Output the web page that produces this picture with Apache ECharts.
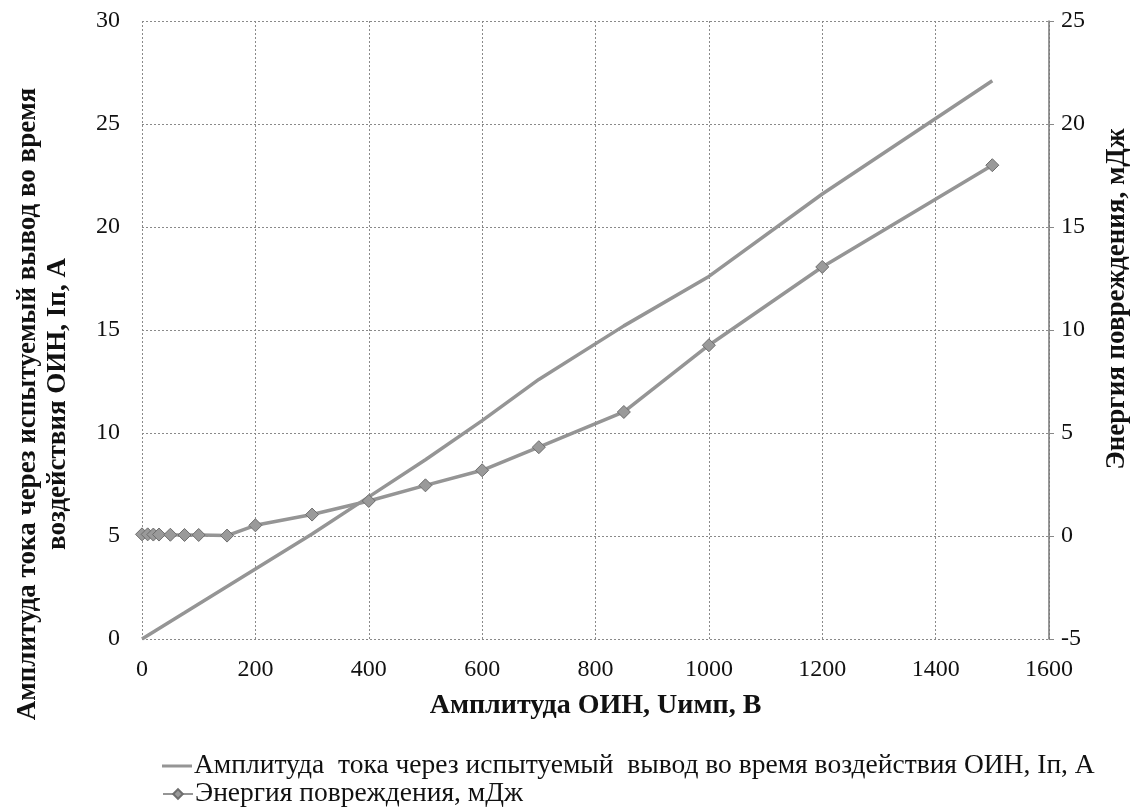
<!DOCTYPE html>
<html>
<head>
<meta charset="utf-8">
<script src="https://cdn.jsdelivr.net/npm/echarts@6/dist/echarts.min.js"></script>
<style>
html,body{margin:0;padding:0;background:#fff;}
#chart{width:1139px;height:807px;}
</style>
</head>
<body>
<div id="chart"></div>
<script>
// Data
const voltage = [0, 10, 20, 30, 50, 75, 100, 150, 200, 300, 400, 500, 600, 700, 850, 1000, 1200, 1500];
const currentA = [0, 0.17, 0.34, 0.51, 0.85, 1.27, 1.7, 2.55, 3.4, 5.1, 6.9, 8.7, 10.6, 12.6, 15.2, 17.6, 21.6, 27.1];
const energyMJ = [0.08, 0.08, 0.07, 0.07, 0.06, 0.05, 0.05, 0.02, 0.52, 1.04, 1.7, 2.46, 3.19, 4.31, 6.02, 9.26, 13.06, 18.0];
const seriesNames = [
  'Амплитуда  тока через испытуемый  вывод во время воздействия ОИН, Iп, А',
  'Энергия повреждения, мДж'
];
const xTitle = 'Амплитуда ОИН, Uимп, В';
const leftTitle = ['Амплитуда тока через испытуемый вывод во время', 'воздействия ОИН, Iп, А'];
const rightTitle = 'Энергия повреждения, мДж';

const FONT = '"Liberation Serif", "Times New Roman", serif';
const chart = echarts.init(document.getElementById('chart'));
const gridLine = {show: true, lineStyle: {color: '#8a8a8a', type: [2, 2], width: 1}};
const lineColor = '#959595';
const tickFont = {fontFamily: FONT, fontSize: 24, color: '#111'};
const legendText = {fontFamily: FONT, fontSize: 27.5, color: '#111', padding: [0, 0, 0, -3]};

chart.setOption({
  animation: false,
  backgroundColor: '#ffffff',
  textStyle: {fontFamily: FONT, color: '#111'},
  grid: {left: 142, right: 90, top: 21, bottom: 168},
  legend: [
    {
      orient: 'horizontal', left: 157, top: 747, itemWidth: 30, itemHeight: 3,
      textStyle: legendText,
      data: [{name: seriesNames[0], icon: 'rect'}]
    },
    {
      orient: 'horizontal', left: 157, top: 775, itemWidth: 30, itemHeight: 12,
      textStyle: legendText,
      data: [seriesNames[1]]
    }
  ],
  xAxis: {
    type: 'value', min: 0, max: 1600, interval: 200,
    name: xTitle, nameLocation: 'middle', nameGap: 53,
    nameTextStyle: {fontFamily: FONT, fontSize: 28, fontWeight: 'bold', color: '#111'},
    axisLine: {show: false}, axisTick: {show: false},
    axisLabel: Object.assign({margin: 19, formatter: v => String(v)}, tickFont),
    splitLine: gridLine
  },
  yAxis: [
    {
      type: 'value', min: 0, max: 30, interval: 5, position: 'left',
      axisLine: {show: false}, axisTick: {show: false},
      axisLabel: Object.assign({margin: 22, formatter: v => String(v)}, tickFont),
      splitLine: gridLine
    },
    {
      type: 'value', min: -5, max: 25, interval: 5, position: 'right',
      axisLine: {show: true, lineStyle: {color: '#777', width: 1.5}},
      axisTick: {show: true, length: 5, lineStyle: {color: '#888'}},
      axisLabel: Object.assign({margin: 12, formatter: v => String(v)}, tickFont),
      splitLine: {show: false}
    }
  ],
  graphic: [
    {type: 'text', x: 28, y: 404, rotation: Math.PI / 2,
     style: {text: leftTitle[0], font: 'bold 27px ' + FONT, fill: '#111', align: 'center', verticalAlign: 'middle'}},
    {type: 'text', x: 58, y: 404, rotation: Math.PI / 2,
     style: {text: leftTitle[1], font: 'bold 27px ' + FONT, fill: '#111', align: 'center', verticalAlign: 'middle'}},
    {type: 'text', x: 1117, y: 299, rotation: Math.PI / 2,
     style: {text: rightTitle, font: 'bold 27px ' + FONT, fill: '#111', align: 'center', verticalAlign: 'middle'}}
  ],
  series: [
    {
      name: seriesNames[0], type: 'line', yAxisIndex: 0,
      data: voltage.map((v, i) => [v, currentA[i]]),
      symbol: 'none', showSymbol: false,
      lineStyle: {color: lineColor, width: 3.5},
      itemStyle: {color: lineColor}
    },
    {
      name: seriesNames[1], type: 'line', yAxisIndex: 1,
      data: voltage.map((v, i) => [v, energyMJ[i]]),
      symbol: 'diamond', symbolSize: 13, showSymbol: true,
      lineStyle: {color: lineColor, width: 3.5},
      itemStyle: {color: '#9a9a9a', borderColor: '#6e6e6e', borderWidth: 1}
    }
  ]
});
</script>
</body>
</html>
